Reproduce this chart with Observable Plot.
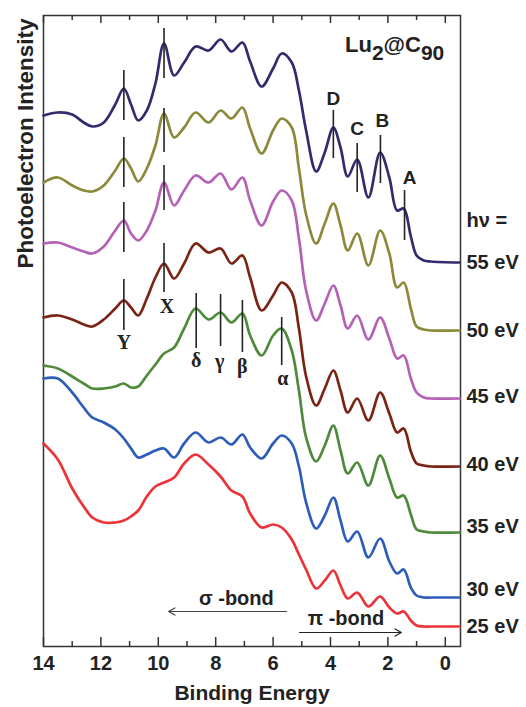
<!DOCTYPE html>
<html><head><meta charset="utf-8">
<script src="https://cdn.jsdelivr.net/npm/d3@7"></script>
<script src="https://cdn.jsdelivr.net/npm/@observablehq/plot@0.6"></script>
<style>
html,body{margin:0;padding:0;background:#fff;}
#chart{width:526px;height:707px;}
</style></head><body><div id="chart"></div>
<script>
// Binding energy grid (eV)
const energy = [14, 13.5, 13, 12.6, 12.3, 11.9, 11.5, 11.2, 10.95, 10.7, 10.4, 10.1, 9.8, 9.45, 9.1, 8.7, 8.25, 7.83, 7.45, 7.07, 6.8, 6.4, 6.0, 5.7, 5.35, 5.1, 4.85, 4.5, 4.2, 3.9, 3.65, 3.4, 3.07, 2.68, 2.27, 1.95, 1.68, 1.45, 1.2, 1.0, 0.75, 0.5, -0.5];

// photon energies and spectra (intensity above each spectrum's baseline, arb. units)
const photonLabels = ["55 eV", "50 eV", "45 eV", "40 eV", "35 eV", "30 eV", "25 eV"];
const offsets = [384, 316, 248, 180, 114, 49, 20];
const i55 = [147,150,148,140,136,140,158,174,158,142,152,179,219,187,200,216,212,223,211,220,201,176,194,209,200,172,132,91,110,135,115,86,103,65,110,85,52,54,26,7,2,1,0];
const i50 = [148,153,145,140,139,145,160,172,162,149,162,185,217,193,203,218,208,220,212,223,202,177,200,212,203,162,116,87,107,127,105,80,97,65,100,77,43,48,22,4,1,0,0];
const i45 = [155,156,151,147,145,152,168,178,165,158,168,188,216,193,208,223,216,225,209,221,198,173,197,208,198,160,108,78,95,113,93,70,83,59,81,60,40,43,20,6,1,0,0];
const i40 = [149,151,147,142,140,147,158,166,159,151,168,189,203,188,203,223,214,218,203,211,189,156,171,184,174,138,90,61,78,96,76,54,68,46,74,53,34,38,15,3,1,0,0];
const i35 = [167,164,156,149,144,144,146,149,145,146,157,168,179,185,204,224,213,220,210,219,197,177,197,204,182,142,95,71,87,107,82,59,70,47,77,54,35,37,18,3,1,0,0];
const i30 = [219,219,205,190,180,175,168,159,149,140,143,147,149,140,154,165,155,160,153,163,150,139,154,162,154,131,95,69,82,100,77,56,66,40,59,36,24,28,10,2,0,0,0];
const i25 = [183,167,138,120,109,104,104,106,110,116,130,140,144,149,163,172,162,150,136,130,113,99,102,99,87,72,57,38,46,56,41,28,34,20,30,19,13,15,6,1,0,0,0];
const spectra = [i55, i50, i45, i40, i35, i30, i25];
const colors = ["#302c6e", "#8c8a3a", "#b562b6", "#7a2415", "#4e8a3b", "#2d5db9", "#ec3337"];

// axis ticks
const majorTicks = [14, 12, 10, 8, 6, 4, 2, 0];
const minorTicks = [13, 11, 9, 7, 5, 3, 1];

// peak assignments
const peakNames = ["Y", "X", "δ", "γ", "β", "α", "D", "C", "B", "A"];
const peakEnergies = [11.2, 9.8, 8.68, 7.83, 7.07, 5.7, 3.9, 3.07, 2.26, 1.42];

// ---- layout (annotation placement) ----
const markerSegs = [
  [[526,576],[459,509],[394,444],[316,367]],
  [[568,618],[494,538],[436,481],[354,403]],
  [[298,353]], [[300,352]], [[294,346]], [[281,329]],
  [[488,536]], [[454,503]], [[463,511]], [[406,456]]
];
const markerLabelY = [304, 340, 286, 285, 280, 268, 548, 518, 526, 469];
const markerLabelDx = [0, 3, 0, -1, 0, 1, 0, 0, 2, 5];
const markerSerif = [true, true, true, true, true, true, false, false, false, false];
const photonLabelY = [384, 316, 250, 182, 120, 57, 20];

const rows = [];
spectra.forEach((s, k) => s.forEach((v, j) => rows.push({E: energy[j], y: offsets[k] + v, hv: photonLabels[k]})));
const segRows = [];
markerSegs.forEach((segs, k) => segs.forEach(([a, b]) => segRows.push({E: peakEnergies[k], y1: a, y2: b})));

const SANS = "'Liberation Sans', Arial, Helvetica, sans-serif";
const SERIF = "'Liberation Serif', 'Times New Roman', serif";
const INK = "#222";

const peakLabelMarks = peakNames.map((n, k) => Plot.text([n], {
  x: () => peakEnergies[k], y: () => markerLabelY[k], text: d => d, dx: markerLabelDx[k],
  fontFamily: markerSerif[k] ? SERIF : SANS, fontWeight: "bold", fontSize: markerSerif[k] ? 20 : 19,
  fill: INK, lineAnchor: "middle", textAnchor: "middle"
}));

const plot = Plot.plot({
  width: 526, height: 707,
  marginLeft: 43, marginRight: 66, marginTop: 15, marginBottom: 61,
  x: {domain: [14, -0.53]},
  y: {domain: [0, 631], axis: null},
  color: {domain: photonLabels, range: colors},
  style: {fontFamily: SANS, background: "#fff", color: INK},
  marks: [
    Plot.frame({stroke: "#333", strokeWidth: 1.5}),
    Plot.axisX({ticks: majorTicks, tickSize: 0, tickPadding: 9, fontSize: 20, fontWeight: "bold", label: null, tickFormat: d => String(d), fill: INK}),
    Plot.ruleX(majorTicks, {x: d => d, y1: 0, y2: 9, stroke: "#333", strokeWidth: 1.5}),
    Plot.ruleX(minorTicks, {x: d => d, y1: 0, y2: 5, stroke: "#333", strokeWidth: 1.5}),
    Plot.ruleX(majorTicks, {x: d => d, y1: 631, y2: 623, stroke: "#333", strokeWidth: 1.5}),
    Plot.ruleX(minorTicks, {x: d => d, y1: 631, y2: 626, stroke: "#333", strokeWidth: 1.5}),
    Plot.line(rows, {x: "E", y: "y", z: "hv", stroke: "hv", strokeWidth: 2.7, curve: "catmull-rom"}),
    Plot.ruleX(segRows, {x: "E", y1: "y1", y2: "y2", stroke: INK, strokeWidth: 1.6}),
    ...peakLabelMarks,
    Plot.text(photonLabels, {y: (d, i) => photonLabelY[i], text: d => d, frameAnchor: "right", dx: 6, textAnchor: "start", fontSize: 20, fontWeight: "bold", fill: INK, lineAnchor: "middle"}),
    Plot.text(["hν ="], {y: 426, text: d => d, frameAnchor: "right", dx: 6, textAnchor: "start", fontSize: 20, fontWeight: "bold", fill: INK, lineAnchor: "middle"}),
    Plot.arrow([{a: 5.53, b: 9.64, y: 35}], {x1: "a", x2: "b", y1: "y", y2: "y", stroke: "#444", strokeWidth: 1.2, headLength: 9}),
    Plot.arrow([{a: 5.08, b: 1.53, y: 14}], {x1: "a", x2: "b", y1: "y", y2: "y", stroke: "#222", strokeWidth: 1.2, headLength: 9}),
    Plot.text(["σ -bond"], {x: 7.28, y: 48, text: d => d, fontSize: 20, fontWeight: "bold", fill: INK, lineAnchor: "middle"}),
    Plot.text(["π -bond"], {x: 3.46, y: 28, text: d => d, fontSize: 20, fontWeight: "bold", fill: INK, lineAnchor: "middle"}),
    Plot.text(["Binding Energy"], {frameAnchor: "bottom", dy: 47, text: d => d, fontSize: 21, fontWeight: "bold", fill: INK, lineAnchor: "middle"}),
    Plot.text(["Photoelectron Intensity"], {frameAnchor: "top-left", dx: -18, dy: 128, rotate: -90, text: d => d, textAnchor: "middle", fontSize: 22.5, fontWeight: "bold", fill: INK, lineAnchor: "middle"})
  ]
});

document.getElementById("chart").appendChild(plot);

const svg = d3.select(plot);
const t = svg.append("text").attr("x", 345).attr("y", 52).attr("text-anchor", "start")
  .attr("font-family", SANS).attr("font-size", 22).attr("font-weight", "bold").attr("fill", INK);
t.append("tspan").text("Lu");
t.append("tspan").attr("dy", 8).attr("font-size", 21).text("2");
t.append("tspan").attr("dy", -8).text("@C");
t.append("tspan").attr("dy", 8).attr("font-size", 21).text("90");
</script>
</body></html>
